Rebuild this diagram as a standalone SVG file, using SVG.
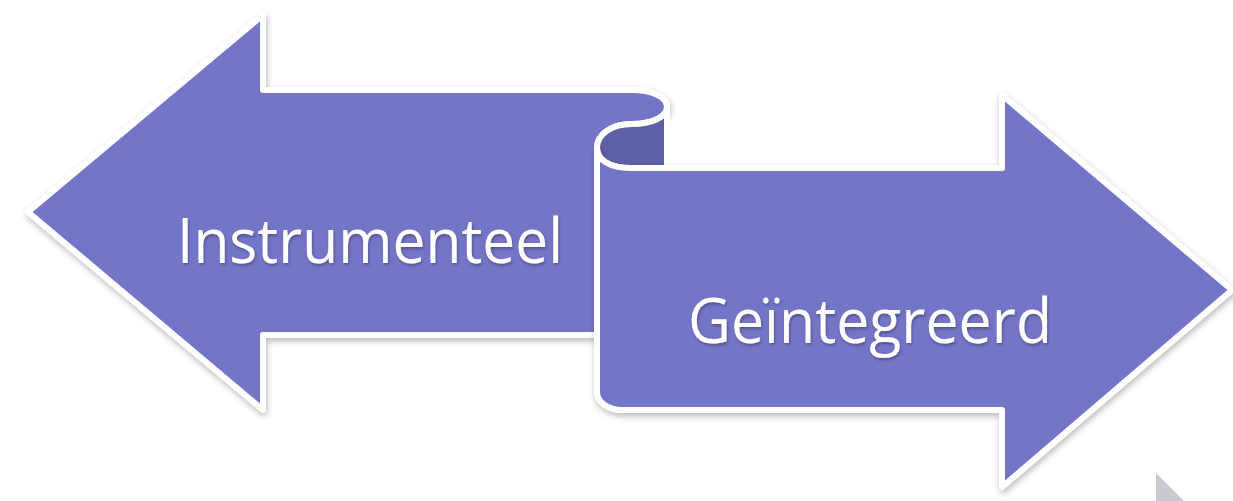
<svg xmlns="http://www.w3.org/2000/svg" width="1233" height="501" viewBox="0 0 1233 501">
<defs>
<filter id="sh" x="-10%" y="-10%" width="120%" height="130%">
<feDropShadow dx="1" dy="3" stdDeviation="3" flood-color="#000" flood-opacity="0.28"/>
</filter>
<filter id="tsh" x="-5%" y="-20%" width="110%" height="140%">
<feDropShadow dx="1" dy="2" stdDeviation="1.5" flood-color="#000" flood-opacity="0.3"/>
</filter>
<style>
.arrow{fill:#7475c8;stroke:#ffffff;stroke-width:6;stroke-linejoin:round}
.back{fill:#5f5fa6;stroke:#ffffff;stroke-width:6;stroke-linejoin:round}
.lbl{font-family:"Open Sans","Liberation Sans",sans-serif;font-size:63px;fill:#ffffff}
</style>
</defs>
<rect width="1233" height="501" fill="#ffffff"/>
<polygon points="1156,473 1156,501 1184,501" fill="#c8c9d1"/>
<g id="left-arrow" filter="url(#sh)">
<path class="arrow" d="M28,212 L263,15 L263,90 L632,90 C652,90 667,97 667,107 C667,117 652,124 632,124 C612,124 597,134 597,148 L597,335 L263,335 L263,410 Z"/>
</g>
<g id="curl">
<path class="back" d="M667,107 C667,117 652,124 632,124 C612,124 597,134 597,148 C597,160 610,168 630,168 L667,168 Z"/>
</g>
<g id="right-arrow" filter="url(#sh)">
<path class="arrow" d="M597,148 C597,160 610,168 630,168 L1002,168 L1002,95 L1232,290 L1002,487 L1002,410 L622,410 C608,410 597,402 597,392 Z"/>
</g>
<g id="labels" filter="url(#tsh)">
<text class="lbl" x="177" y="263" textLength="386" lengthAdjust="spacingAndGlyphs">Instrumenteel</text>
<text class="lbl" x="688" y="343" textLength="364" lengthAdjust="spacingAndGlyphs">Geïntegreerd</text>
</g>
</svg>
